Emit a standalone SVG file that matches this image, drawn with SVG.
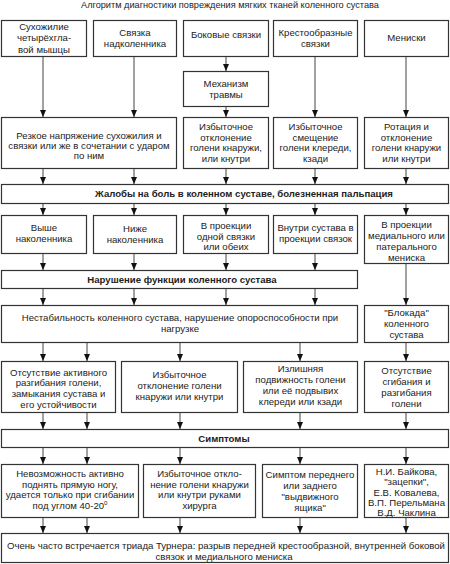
<svg xmlns="http://www.w3.org/2000/svg" width="450" height="564" viewBox="0 0 450 564">
<defs>
<marker id="ah" markerUnits="userSpaceOnUse" markerWidth="6" markerHeight="7" refX="3" refY="7" orient="0" viewBox="0 0 6 7">
<path d="M0,0 L6,0 L3,7 z" fill="#111"/>
</marker>
<style>
text{font-family:"Liberation Sans",Arial,sans-serif;font-size:9.6px;fill:#222;text-anchor:middle}
.b{font-weight:bold}
.t{font-size:9.2px}
rect{fill:#fff;stroke:#333;stroke-width:1.2}
#connectors line{stroke:#444;stroke-width:1;marker-end:url(#ah)}
</style>
</defs>
<rect x="0" y="0" width="450" height="564" style="stroke:none;fill:#fff"/>
<text class="t" x="230" y="8">Алгоритм диагностики повреждения мягких тканей коленного сустава</text>

<g id="connectors">
<line x1="43" y1="56" x2="43" y2="117"/>
<line x1="134" y1="56" x2="134" y2="117"/>
<line x1="226" y1="56" x2="226" y2="71"/>
<line x1="226" y1="106" x2="226" y2="117"/>
<line x1="315" y1="56" x2="315" y2="117"/>
<line x1="406" y1="56" x2="406" y2="117"/>
<line x1="43" y1="168" x2="43" y2="184"/>
<line x1="134" y1="168" x2="134" y2="184"/>
<line x1="226" y1="168" x2="226" y2="184"/>
<line x1="315" y1="168" x2="315" y2="184"/>
<line x1="406" y1="168" x2="406" y2="184"/>
<line x1="43" y1="203" x2="43" y2="215"/>
<line x1="134" y1="203" x2="134" y2="215"/>
<line x1="226" y1="203" x2="226" y2="215"/>
<line x1="315" y1="203" x2="315" y2="215"/>
<line x1="406" y1="203" x2="406" y2="215"/>
<line x1="43" y1="253" x2="43" y2="270"/>
<line x1="134" y1="253" x2="134" y2="270"/>
<line x1="226" y1="253" x2="226" y2="270"/>
<line x1="315" y1="253" x2="315" y2="270"/>
<line x1="406" y1="263" x2="406" y2="305"/>
<line x1="43" y1="288" x2="43" y2="305"/>
<line x1="134" y1="288" x2="134" y2="305"/>
<line x1="226" y1="288" x2="226" y2="305"/>
<line x1="315" y1="288" x2="315" y2="305"/>
<line x1="43" y1="342" x2="43" y2="361"/>
<line x1="87" y1="342" x2="87" y2="361"/>
<line x1="180" y1="342" x2="180" y2="361"/>
<line x1="300" y1="342" x2="300" y2="361"/>
<line x1="406" y1="342" x2="406" y2="361"/>
<line x1="43" y1="412" x2="43" y2="429"/>
<line x1="87" y1="412" x2="87" y2="429"/>
<line x1="180" y1="412" x2="180" y2="429"/>
<line x1="300" y1="412" x2="300" y2="429"/>
<line x1="406" y1="412" x2="406" y2="429"/>
<line x1="43" y1="447" x2="43" y2="464"/>
<line x1="87" y1="447" x2="87" y2="464"/>
<line x1="180" y1="447" x2="180" y2="464"/>
<line x1="300" y1="447" x2="300" y2="464"/>
<line x1="406" y1="447" x2="406" y2="464"/>
<line x1="43" y1="517" x2="43" y2="533"/>
<line x1="87" y1="517" x2="87" y2="533"/>
<line x1="180" y1="517" x2="180" y2="533"/>
<line x1="300" y1="517" x2="300" y2="533"/>
<line x1="406" y1="517" x2="406" y2="533"/>
</g>

<g id="n-quad">
<rect x="1.5" y="20.5" width="85" height="36"/>
<text x="44" y="29.5">Сухожилие</text>
<text x="44" y="41">четырёхгла-</text>
<text x="44" y="52.5">вой мышцы</text>
</g>
<g id="n-patellar">
<rect x="93.5" y="20.5" width="83" height="36"/>
<text x="135" y="35.5">Связка</text>
<text x="135" y="47">надколенника</text>
</g>
<g id="n-collateral">
<rect x="183.5" y="20.5" width="85" height="36"/>
<text x="226" y="38">Боковые связки</text>
</g>
<g id="n-cruciate">
<rect x="273.5" y="20.5" width="84" height="36"/>
<text x="315.5" y="35.5">Крестообразные</text>
<text x="315.5" y="46.5">связки</text>
</g>
<g id="n-menisci">
<rect x="364.5" y="20.5" width="84" height="36"/>
<text x="406.5" y="40.5">Мениски</text>
</g>
<g id="n-mechanism">
<rect x="183.5" y="71.5" width="85" height="35"/>
<text x="226" y="86.5">Механизм</text>
<text x="226" y="97.5">травмы</text>
</g>

<g id="n-tension">
<rect x="1.5" y="117.5" width="175" height="51"/>
<text x="89" y="138.5">Резкое напряжение сухожилия и</text>
<text x="89" y="148.5">связки или же в сочетании с ударом</text>
<text x="89" y="158.5">по ним</text>
</g>
<g id="n-deviation">
<rect x="183.5" y="117.5" width="85" height="51"/>
<text x="226" y="129.5">Избыточное</text>
<text x="226" y="140.5">отклонение</text>
<text x="226" y="151">голени кнаружи,</text>
<text x="226" y="161.5">или кнутри</text>
</g>
<g id="n-shift">
<rect x="273.5" y="117.5" width="84" height="51"/>
<text x="315.5" y="129.5">Избыточное</text>
<text x="315.5" y="140.5">смещение</text>
<text x="315.5" y="151">голени клереди,</text>
<text x="315.5" y="161.5">кзади</text>
</g>
<g id="n-rotation">
<rect x="364.5" y="117.5" width="84" height="51"/>
<text x="406.5" y="129.5">Ротация и</text>
<text x="406.5" y="140.5">отклонение</text>
<text x="406.5" y="151">голени кнаружи</text>
<text x="406.5" y="161.5">или кнутри</text>
</g>

<g id="n-pain">
<rect x="1.5" y="184.5" width="447" height="19"/>
<text class="b" x="244" y="197">Жалобы на боль в коленном суставе, болезненная пальпация</text>
</g>

<g id="n-above">
<rect x="1.5" y="215.5" width="85" height="38"/>
<text x="44" y="230.5">Выше</text>
<text x="44" y="241.5">наколенника</text>
</g>
<g id="n-below">
<rect x="93.5" y="215.5" width="83" height="38"/>
<text x="135" y="231.5">Ниже</text>
<text x="135" y="242.5">наколенника</text>
</g>
<g id="n-proj">
<rect x="183.5" y="215.5" width="85" height="38"/>
<text x="226" y="228.5">В проекции</text>
<text x="226" y="239.5">одной связки</text>
<text x="226" y="250">или обеих</text>
</g>
<g id="n-inside">
<rect x="273.5" y="215.5" width="84" height="38"/>
<text x="315.5" y="230.5">Внутри сустава в</text>
<text x="315.5" y="242">проекции связок</text>
</g>
<g id="n-meniscproj">
<rect x="364.5" y="215.5" width="84" height="48"/>
<text x="406.5" y="227.5">В проекции</text>
<text x="406.5" y="238.5">медиального или</text>
<text x="406.5" y="249.5">патерального</text>
<text x="406.5" y="260.5">мениска</text>
</g>

<g id="n-dysfunction">
<rect x="1.5" y="270.5" width="356" height="18"/>
<text class="b" x="182" y="282.5">Нарушение функции коленного сустава</text>
</g>

<g id="n-instability">
<rect x="1.5" y="305.5" width="356" height="37"/>
<text x="180" y="320.5">Нестабильность коленного сустава, нарушение опороспособности при</text>
<text x="180" y="331.5">нагрузке</text>
</g>
<g id="n-block">
<rect x="364.5" y="305.5" width="84" height="37"/>
<text x="406.5" y="315.5">"Блокада"</text>
<text x="406.5" y="326.5">коленного</text>
<text x="406.5" y="337.5">сустава</text>
</g>

<g id="n-noext">
<rect x="1.5" y="361.5" width="114" height="51"/>
<text x="58.5" y="375.5">Отсутствие активного</text>
<text x="58.5" y="386">разгибания голени,</text>
<text x="58.5" y="396.5">замыкания сустава и</text>
<text x="58.5" y="407.5">его устойчивости</text>
</g>
<g id="n-excdev">
<rect x="121.5" y="361.5" width="116" height="51"/>
<text x="179.5" y="377.5">Избыточное</text>
<text x="179.5" y="388.5">отклонение голени</text>
<text x="179.5" y="399.5">кнаружи или кнутри</text>
</g>
<g id="n-mobility">
<rect x="243.5" y="361.5" width="114" height="51"/>
<text x="300.5" y="371.5">Излишняя</text>
<text x="300.5" y="382.5">подвижность голени</text>
<text x="300.5" y="393.5">или её подвывих</text>
<text x="300.5" y="404.5">клереди или кзади</text>
</g>
<g id="n-noflex">
<rect x="364.5" y="361.5" width="84" height="51"/>
<text x="406.5" y="373.5">Отсутствие</text>
<text x="406.5" y="385">сгибания и</text>
<text x="406.5" y="396">разгибания</text>
<text x="406.5" y="406.5">голени</text>
</g>

<g id="n-symptoms">
<rect x="1.5" y="429.5" width="447" height="18"/>
<text class="b" x="224" y="442">Симптомы</text>
</g>

<g id="n-leg">
<rect x="1.5" y="464.5" width="137" height="53"/>
<text x="70" y="476.5">Невозможность активно</text>
<text x="70" y="487.5">поднять прямую ногу,</text>
<text x="70" y="497.5">удается только при сгибании</text>
<text x="70" y="508.5">под углом 40-20<tspan dy="-4" font-size="6">0</tspan></text>
</g>
<g id="n-surgeon">
<rect x="143.5" y="464.5" width="112" height="53"/>
<text x="199.5" y="476.5">Избыточное откло-</text>
<text x="199.5" y="487.5">нение голени кнаружи</text>
<text x="199.5" y="498">или кнутри руками</text>
<text x="199.5" y="508.5">хирурга</text>
</g>
<g id="n-drawer">
<rect x="262.5" y="464.5" width="95" height="53"/>
<text x="310" y="477.5">Симптом переднего</text>
<text x="310" y="488.5">или заднего</text>
<text x="310" y="499.5">"выдвижного</text>
<text x="310" y="510.5">ящика"</text>
</g>
<g id="n-authors">
<rect x="364.5" y="464.5" width="84" height="53"/>
<text x="406.5" y="474.5">Н.И. Байкова,</text>
<text x="406.5" y="485">"зацепки",</text>
<text x="406.5" y="495.5">Е.В. Ковалева,</text>
<text x="406.5" y="505.5">В.П. Перельмана</text>
<text x="406.5" y="515.5">В.Д. Чаклина</text>
</g>

<g id="n-turner">
<rect x="1.5" y="533.5" width="447" height="29"/>
<text x="226" y="548.5">Очень часто встречается триада Турнера: разрыв передней крестообразной, внутренней боковой</text>
<text x="224" y="559.5">связок и медиального мениска</text>
</g>
</svg>
